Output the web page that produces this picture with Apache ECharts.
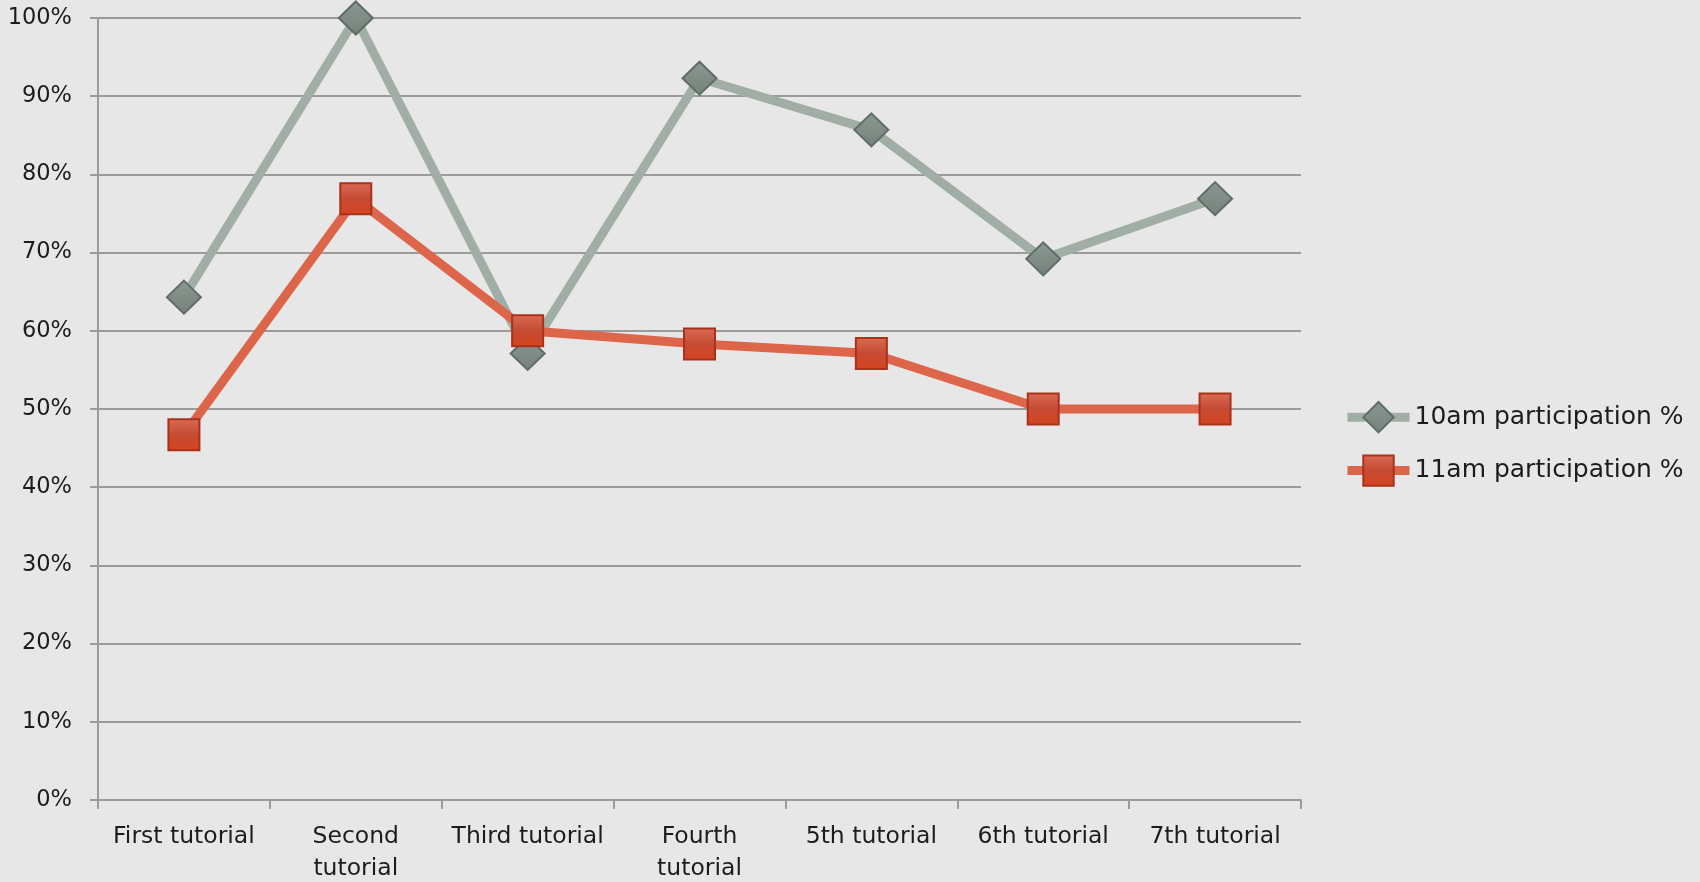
<!DOCTYPE html>
<html>
<head>
<meta charset="utf-8">
<script src="https://cdn.jsdelivr.net/npm/echarts@6/dist/echarts.min.js"></script>
<style>
  html, body { margin: 0; padding: 0; background: #e7e7e7; }
  #chart { width: 1700px; height: 882px; }
</style>
</head>
<body>
<div id="chart"></div>
<script>
// data
var categories = ['First tutorial', 'Second tutorial', 'Third tutorial', 'Fourth tutorial', '5th tutorial', '6th tutorial', '7th tutorial']
var seriesNames = ['10am participation %', '11am participation %']
var am10 = [64.3, 100, 57.1, 92.3, 85.7, 69.2, 76.9]
var am11 = [46.7, 76.9, 60.0, 58.3, 57.1, 50.0, 50.0]
var yTicks = [0, 10, 20, 30, 40, 50, 60, 70, 80, 90, 100]

var gridColor = '#9b9b9b'
var textColor = '#1c1c1c'
var font = 'DejaVu Sans'

var theEcharts = echarts.init(document.getElementById('chart'))

var options = {
  backgroundColor: '#e7e7e7',
  animation: false,
  grid: {
    left: 98,
    right: 399,
    top: 18,
    bottom: 82,
    outerBoundsMode: 'none' // keep the plot where it is, labels may touch the edge
  },
  legend: {
    orient: 'vertical',
    left: 1338,
    top: 396,
    itemWidth: 62,
    itemHeight: 38,
    itemGap: 21,
    data: seriesNames,
    lineStyle: { width: 9 },
    textStyle: {
      color: textColor,
      fontFamily: font,
      fontSize: 25
    }
  },
  xAxis: {
    type: 'category',
    data: categories,
    boundaryGap: true,
    axisLine: { show: true, lineStyle: { color: gridColor, width: 2 } },
    axisTick: { show: true, length: 9, lineStyle: { color: gridColor, width: 2 } },
    axisLabel: {
      interval: 0,
      margin: 21,
      color: textColor,
      fontFamily: font,
      fontSize: 23.5,
      lineHeight: 32,
      // long names go on two lines, like the original
      formatter: function (v) {
        return v.length > 14 ? v.replace(' ', '\n') : v
      }
    }
  },
  yAxis: {
    type: 'value',
    min: yTicks[0],
    max: yTicks[yTicks.length - 1],
    interval: 10,
    axisLine: { show: true, lineStyle: { color: gridColor, width: 2 } },
    axisTick: { show: true, length: 8, lineStyle: { color: gridColor, width: 2 } },
    splitLine: { show: true, lineStyle: { color: gridColor, width: 2 } },
    axisLabel: {
      margin: 26,
      color: textColor,
      fontFamily: font,
      fontSize: 22.5,
      formatter: '{value}%'
    }
  },
  series: [
    {
      name: seriesNames[0],
      type: 'line',
      data: am10,
      symbol: 'diamond',
      symbolSize: [34, 33],
      lineStyle: { color: '#a0aea6', width: 9 },
      itemStyle: {
        color: new echarts.graphic.LinearGradient(0, 0, 0, 1, [
          { offset: 0, color: '#8a9891' },
          { offset: 1, color: '#74827b' }
        ]),
        borderColor: '#5f6d66',
        borderWidth: 2
      },
      emphasis: { disabled: true }
    },
    {
      name: seriesNames[1],
      type: 'line',
      data: am11,
      symbol: 'rect',
      symbolSize: 31,
      lineStyle: { color: '#dc654a', width: 9 },
      itemStyle: {
        color: new echarts.graphic.LinearGradient(0, 0, 0, 1, [
          { offset: 0, color: '#dc6b55' },
          { offset: 0.5, color: '#c54b33' },
          { offset: 1, color: '#d6441f' }
        ]),
        borderColor: '#a8321b',
        borderWidth: 2
      },
      emphasis: { disabled: true }
    }
  ]
}

theEcharts.setOption(options, true)
</script>
</body>
</html>
